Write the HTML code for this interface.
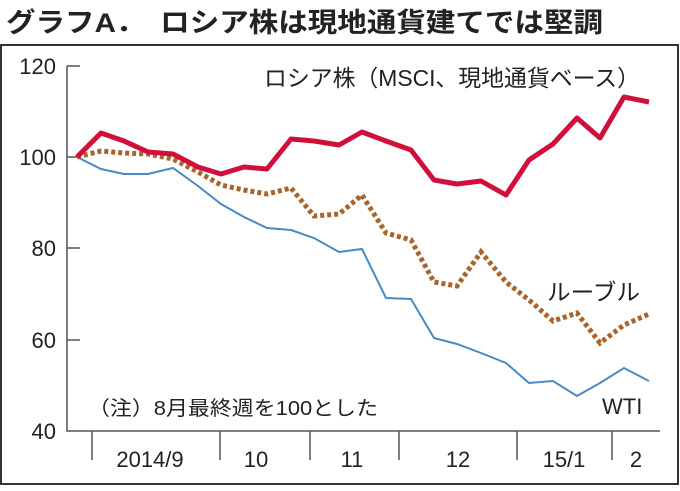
<!DOCTYPE html><html><head><meta charset="utf-8"><style>
body{margin:0;background:#fff;width:680px;height:486px;overflow:hidden}
text{font-family:"Liberation Sans","Noto Sans CJK JP",sans-serif;fill:#222}
</style></head><body>
<svg width="680" height="486" viewBox="0 0 680 486">
<text x="6" y="32" font-size="27" font-weight="bold" textLength="597" lengthAdjust="spacingAndGlyphs">グラフA．　ロシア株は現地通貨建てでは堅調</text>
<rect x="1" y="45" width="677" height="439" fill="none" stroke="#333" stroke-width="2"/>
<g stroke="#555" stroke-width="1.5" fill="none">
<path d="M67 66V431H660"/>
<path d="M67 66H80M67 157H80M67 248H80M67 340H80"/>
<path d="M92 431V460M220 431V460M310 431V460M399 431V460M517 431V460M612 431V460"/>
</g>
<g font-size="22" text-anchor="end">
<text x="56" y="74">120</text><text x="56" y="165">100</text><text x="56" y="256">80</text><text x="56" y="348">60</text><text x="56" y="439">40</text>
</g>
<g font-size="22" text-anchor="middle">
<text x="150" y="467">2014/9</text><text x="256" y="467">10</text><text x="352" y="467">11</text><text x="458" y="467">12</text><text x="564" y="467">15/1</text><text x="636" y="467">2</text>
</g>
<text x="264" y="86" font-size="23" textLength="376" lengthAdjust="spacingAndGlyphs">ロシア株（MSCI、現地通貨ベース）</text>
<text x="547" y="300" font-size="23" textLength="93" lengthAdjust="spacingAndGlyphs">ルーブル</text>
<text x="602" y="414" font-size="22">WTI</text>
<text x="88" y="415" font-size="20" textLength="290" lengthAdjust="spacingAndGlyphs">（注）8月最終週を100とした</text>
<polyline fill="none" stroke="#4a8ac4" stroke-width="2" points="77,157 101,169 124,174 148,174 173,168 198,186 221,204 244,217 267,228 291,230 314,238 339,252 362,249 386,298 411,299 434,338 457,344 481,353 506,363 529,383 553,381 577,396 600,383 624,368 649,381"/>
<polyline fill="none" stroke="#a8642a" stroke-width="5" stroke-dasharray="4 3" points="77,157 101,151 124,153 148,154 173,159 198,172 221,185 244,190 267,194 291,188 314,216 339,214 362,195 386,233 411,240 434,282 457,286 481,252 506,282 529,300 553,321 577,313 600,343 624,325 649,314"/>
<polyline fill="none" stroke="#d0103a" stroke-width="5" stroke-linejoin="round" points="77,157 101,133 124,141 148,152 173,154 198,167 221,174 244,167 267,169 291,139 314,141 339,145 362,132 386,141 411,150 434,180 457,184 481,181 506,195 529,160 553,144 577,118 600,138 624,97 649,102"/>
</svg></body></html>
